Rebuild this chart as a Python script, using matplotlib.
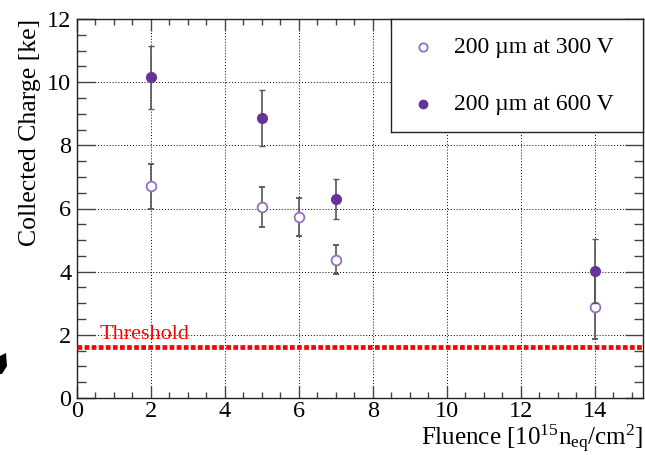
import numpy as np
import matplotlib
matplotlib.use("Agg")
import matplotlib.pyplot as plt
from matplotlib.patches import Polygon
from matplotlib.ticker import MultipleLocator

# Datos
fluence_300 = [2, 5, 6, 7, 14]
charge_300 = [6.70, 6.05, 5.72, 4.38, 2.88]
err_300 = [0.70, 0.62, 0.60, 0.45, 1.00]

fluence_600 = [2, 5, 7, 14]
charge_600 = [10.15, 8.87, 6.30, 4.02]
err_600 = [1.00, 0.88, 0.62, 1.00]

threshold = 1.6
labels = ["200 µm at 300 V", "200 µm at 600 V"]

plt.rcParams["font.family"] = "Liberation Serif"
plt.rcParams["mathtext.fontset"] = "custom"
plt.rcParams["mathtext.rm"] = "Liberation Serif"
plt.rcParams["mathtext.it"] = "Liberation Serif:italic"

W, H = 645, 455
fig = plt.figure(figsize=(W / 100, H / 100), dpi=100)
ax = fig.add_axes([77 / W, 1 - 398 / H, (643 - 77) / W, (398 - 19) / H])

col_600 = "#66339a"
col_300 = "#9370c0"
col_err = "#555555"

ax.errorbar(fluence_300, charge_300, yerr=err_300, fmt="o", ms=7,
            mfc="white", mec=col_300, mew=1.3, ecolor=col_err, elinewidth=1.2,
            capsize=2, capthick=1.0, zorder=4)
ax.errorbar(fluence_600, charge_600, yerr=err_600, fmt="o", ms=7,
            mfc=col_600, mec=col_600, ecolor=col_err, elinewidth=1.2,
            capsize=2, capthick=1.0, zorder=5)

# Umbral
ax.axhline(threshold, color="red", lw=3.4, linestyle=(0, (1, 0.5)), zorder=3)
ax.text(0.62, threshold + 0.12, "Threshold", color="red", fontsize=16,
        ha="left", va="bottom")

ax.set_xlim(0, 15.3)
ax.set_ylim(0, 12)
ax.xaxis.set_major_locator(MultipleLocator(2))
ax.xaxis.set_minor_locator(MultipleLocator(0.5))
ax.yaxis.set_major_locator(MultipleLocator(2))
ax.yaxis.set_minor_locator(MultipleLocator(0.5))
ax.grid(True, which="major", color="black", lw=0.7, linestyle=(0, (1, 2)))
ax.tick_params(axis="both", which="both", direction="in", top=True, right=True,
               colors="#444444", labelcolor="black", labelsize=17.5)
ax.tick_params(axis="y", which="major", length=13, width=1.0, pad=4)
ax.tick_params(axis="y", which="minor", length=6.5, width=1.0)
ax.tick_params(axis="x", which="major", length=8.5, width=1.0, pad=2)
ax.tick_params(axis="x", which="minor", length=4.3, width=1.0)
for s in ax.spines.values():
    s.set_color("#222222")
    s.set_linewidth(1.0)

fig.text(30 / W, 1 - 19 / H, "Collected Charge [ke]", rotation=90,
         ha="center", va="top", fontsize=18.5)
fig.text(643 / W, 1 - 445 / H,
         r"Fluence [10$^{15}$n$_{\mathrm{eq}}$/cm$^{2}$]",
         ha="right", va="baseline", fontsize=18)

# Leyenda estilo ROOT en un eje aparte
lax = fig.add_axes([391 / W, 1 - 132 / H, (643 - 391) / W, (132 - 19) / H])
lax.set_xlim(391, 643)
lax.set_ylim(132, 19)
lax.set_xticks([])
lax.set_yticks([])
for s in lax.spines.values():
    s.set_color("#222222")
    s.set_linewidth(1.0)
lax.plot([423], [47], "o", ms=6, mfc="white", mec=col_300, mew=1.3)
lax.plot([423], [104], "o", ms=6, mfc=col_600, mec=col_600)
lax.text(454, 47, labels[0], fontsize=17, va="center", ha="left")
lax.text(454, 104, labels[1], fontsize=17, va="center", ha="left")

# Marca negra del borde izquierdo
fig.patches.append(Polygon([(0, 1 - 356 / H), (6 / W, 1 - 353 / H), (7 / W, 1 - 366 / H),
                            (2 / W, 1 - 374 / H), (0, 1 - 374 / H)],
                           closed=True, transform=fig.transFigure,
                           facecolor="black", edgecolor="none"))

fig.savefig("out.png", dpi=100)
